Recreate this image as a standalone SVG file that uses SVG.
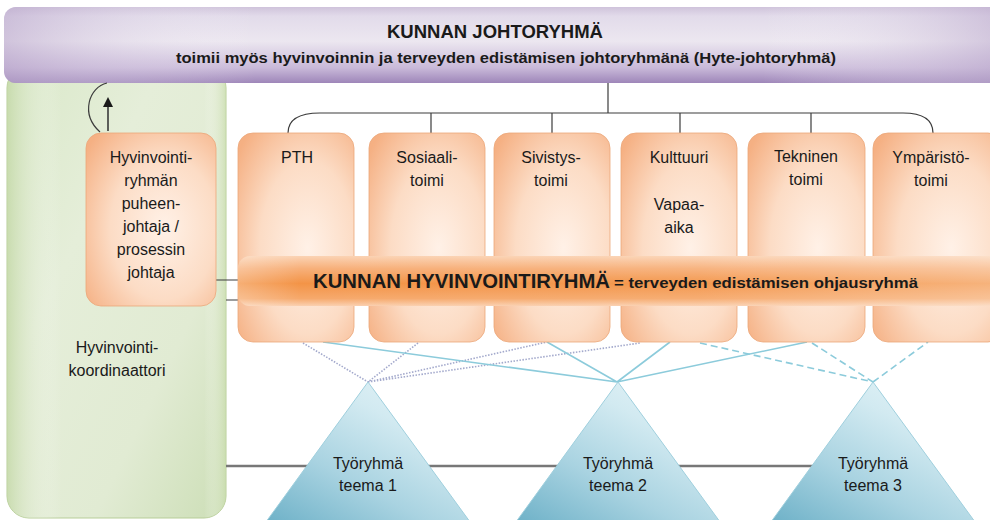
<svg xmlns="http://www.w3.org/2000/svg" width="990" height="520" viewBox="0 0 990 520">
<defs>
<linearGradient id="gPurple" x1="0" y1="0" x2="0" y2="1">
<stop offset="0" stop-color="#cfc3db"/>
<stop offset="0.12" stop-color="#e2dbea"/>
<stop offset="0.45" stop-color="#ece7f0"/>
<stop offset="0.8" stop-color="#c9b9d9"/>
<stop offset="1" stop-color="#9e86b9"/>
</linearGradient>
<linearGradient id="gPurpleH" x1="0" y1="0" x2="1" y2="0">
<stop offset="0" stop-color="#b9a6cb" stop-opacity="0.55"/>
<stop offset="0.25" stop-color="#ffffff" stop-opacity="0"/>
<stop offset="0.75" stop-color="#ffffff" stop-opacity="0"/>
<stop offset="1" stop-color="#b9a6cb" stop-opacity="0.6"/>
</linearGradient>
<linearGradient id="gGreen" x1="0" y1="0" x2="1" y2="1">
<stop offset="0" stop-color="#d9e8c8"/>
<stop offset="0.35" stop-color="#e5eed9"/>
<stop offset="0.7" stop-color="#e1ebd3"/>
<stop offset="1" stop-color="#ccdeb6"/>
</linearGradient>
<linearGradient id="gGreenL" x1="0" y1="0" x2="1" y2="0">
<stop offset="0" stop-color="#c3d8a6" stop-opacity="0.8"/>
<stop offset="0.25" stop-color="#ffffff" stop-opacity="0"/>
<stop offset="0.9" stop-color="#ffffff" stop-opacity="0"/>
<stop offset="1" stop-color="#c7dbaa" stop-opacity="0.7"/>
</linearGradient>
<radialGradient id="gBox" cx="0.6" cy="0.55" r="0.75">
<stop offset="0" stop-color="#fff1e7"/>
<stop offset="0.55" stop-color="#fcdcc5"/>
<stop offset="1" stop-color="#f5b083"/>
</radialGradient>
<linearGradient id="gBand" x1="0" y1="0" x2="0" y2="1">
<stop offset="0" stop-color="#fbd3b4"/>
<stop offset="0.25" stop-color="#f7b07a"/>
<stop offset="0.55" stop-color="#f39447"/>
<stop offset="0.85" stop-color="#f6a96c"/>
<stop offset="1" stop-color="#fad0b0"/>
</linearGradient>
<linearGradient id="gBandH" x1="0" y1="0" x2="1" y2="0">
<stop offset="0" stop-color="#ffffff" stop-opacity="0.25"/>
<stop offset="0.08" stop-color="#ffffff" stop-opacity="0"/>
<stop offset="0.6" stop-color="#ffffff" stop-opacity="0.05"/>
<stop offset="1" stop-color="#ffffff" stop-opacity="0.3"/>
</linearGradient>
<linearGradient id="gTri" x1="0" y1="1" x2="0.8" y2="0">
<stop offset="0" stop-color="#6aafc6"/>
<stop offset="0.4" stop-color="#a9d3e1"/>
<stop offset="0.75" stop-color="#d2eaf1"/>
<stop offset="1" stop-color="#e4f3f7"/>
</linearGradient>
<marker id="arrowUp" viewBox="0 0 10 10" refX="5" refY="5" markerWidth="10" markerHeight="10" markerUnits="userSpaceOnUse" orient="auto">
<path d="M0,0 L10,5 L0,10 z" fill="#1a1a1a"/>
</marker>
</defs>
<style>
.txt{font-family:"Liberation Sans",Arial,sans-serif;fill:#1a1a1a;text-anchor:middle}
.lbl{font-size:16px}
.box{fill:url(#gBox);stroke:#eba77a;stroke-width:0.8}
.tree{fill:none;stroke:#3c3c3c;stroke-width:1.2}
.blue{fill:none;stroke:#8ccbdb;stroke-width:1.6}
.dash{fill:none;stroke:#8ccbdb;stroke-width:1.6;stroke-dasharray:7 4}
.dot{fill:none;stroke:#a3a9cc;stroke-width:1.6;stroke-dasharray:1.5 1.5}
.tri{fill:url(#gTri);stroke:#9fcfdd;stroke-width:1}
</style>
<rect width="990" height="520" fill="#ffffff"/>

<g id="koordinaattori">
<rect x="7" y="66" width="219" height="452" rx="22" fill="url(#gGreen)" stroke="#b7cd98" stroke-width="1"/>
<rect x="7" y="66" width="219" height="452" rx="22" fill="url(#gGreenL)"/>
<text class="txt lbl" x="117" y="353">Hyvinvointi-</text>
<text class="txt lbl" x="117" y="376">koordinaattori</text>
</g>

<g id="johtoryhma">
<rect x="4" y="7" width="1010" height="76" rx="12" fill="url(#gPurple)"/>
<rect x="4" y="7" width="1010" height="76" rx="12" fill="url(#gPurpleH)"/>
<text class="txt" x="495" y="38" font-size="18" font-weight="bold" textLength="216" lengthAdjust="spacingAndGlyphs">KUNNAN JOHTORYHMÄ</text>
<text class="txt" x="506" y="63" font-size="14" font-weight="bold" textLength="660" lengthAdjust="spacingAndGlyphs">toimii myös hyvinvoinnin ja terveyden edistämisen johtoryhmänä (Hyte-johtoryhmä)</text>
</g>

<g id="connectors">
<path class="tree" d="M608,83 V113 M320,113 H903 M320,113 C300,113 288,119 288,133 M903,113 C924,113 933,120 933,133 M431,113 V133 M552,113 V133 M680,113 V133 M811,113 V133"/>
<path class="tree" d="M107,83 C89,87 80,114 100,132"/>
<line x1="108" y1="131" x2="108" y2="102" stroke="#3a3a3a" stroke-width="1.6" marker-end="url(#arrowUp)"/>
<path class="tree" d="M216,280 H238 M226,300 H238"/>
<line x1="226" y1="466" x2="830" y2="466" stroke="#777777" stroke-width="2.5"/>
<path class="dot" d="M303,343 L368,382 M418,343 L368,382 M368,382 L547,342 M368,382 L640,343"/>
<path class="blue" d="M323,342 L617,382 M547,342 L617,382 M670,342 L617,382 M617,382 L807,342"/>
<path class="dash" d="M700,343 L873,382 M812,343 L873,382 M873,382 L928,342"/>
</g>

<g id="puheenjohtaja">
<rect class="box" x="86" y="133" width="130" height="173" rx="15"/>
<text class="txt lbl" x="151" y="163">Hyvinvointi-</text>
<text class="txt lbl" x="151" y="186">ryhmän</text>
<text class="txt lbl" x="151" y="209">puheen-</text>
<text class="txt lbl" x="151" y="232">johtaja /</text>
<text class="txt lbl" x="151" y="255">prosessin</text>
<text class="txt lbl" x="151" y="278">johtaja</text>
</g>

<g id="pth">
<rect class="box" x="238" y="133" width="116" height="209" rx="15"/>
<text class="txt lbl" x="297" y="163">PTH</text>
</g>
<g id="sosiaalitoimi">
<rect class="box" x="369" y="133" width="116" height="209" rx="15"/>
<text class="txt lbl" x="427" y="163">Sosiaali-</text>
<text class="txt lbl" x="427" y="186">toimi</text>
</g>
<g id="sivistystoimi">
<rect class="box" x="494" y="133" width="116" height="209" rx="15"/>
<text class="txt lbl" x="551" y="163">Sivistys-</text>
<text class="txt lbl" x="551" y="186">toimi</text>
</g>
<g id="kulttuuri">
<rect class="box" x="621" y="133" width="116" height="209" rx="15"/>
<text class="txt lbl" x="679" y="163">Kulttuuri</text>
<text class="txt lbl" x="679" y="210">Vapaa-</text>
<text class="txt lbl" x="679" y="233">aika</text>
</g>
<g id="tekninen">
<rect class="box" x="748" y="133" width="117" height="209" rx="15"/>
<text class="txt lbl" x="806" y="162">Tekninen</text>
<text class="txt lbl" x="806" y="185">toimi</text>
</g>
<g id="ymparisto">
<rect class="box" x="873" y="133" width="130" height="209" rx="15"/>
<text class="txt lbl" x="931" y="163">Ympäristö-</text>
<text class="txt lbl" x="931" y="186">toimi</text>
</g>

<g id="hyvinvointiryhma">
<rect x="238" y="256" width="770" height="50" rx="12" fill="url(#gBand)"/>
<rect x="238" y="256" width="770" height="50" rx="12" fill="url(#gBandH)"/>
<text x="313" y="288" font-family="Liberation Sans, Arial, sans-serif" font-weight="bold" fill="#1a1a1a"><tspan font-size="20" textLength="297" lengthAdjust="spacingAndGlyphs">KUNNAN HYVINVOINTIRYHMÄ</tspan><tspan x="614" font-size="15" textLength="304" lengthAdjust="spacingAndGlyphs">= terveyden edistämisen ohjausryhmä</tspan></text>
</g>

<g id="tyoryhma1">
<polygon class="tri" points="368,382 263,526 473,526"/>
<text class="txt lbl" x="368" y="469">Työryhmä</text>
<text class="txt lbl" x="368" y="491">teema 1</text>
</g>
<g id="tyoryhma2">
<polygon class="tri" points="618,382 513,526 723,526"/>
<text class="txt lbl" x="618" y="469">Työryhmä</text>
<text class="txt lbl" x="618" y="491">teema 2</text>
</g>
<g id="tyoryhma3">
<polygon class="tri" points="873,382 768,526 978,526"/>
<text class="txt lbl" x="873" y="469">Työryhmä</text>
<text class="txt lbl" x="873" y="491">teema 3</text>
</g>
</svg>
